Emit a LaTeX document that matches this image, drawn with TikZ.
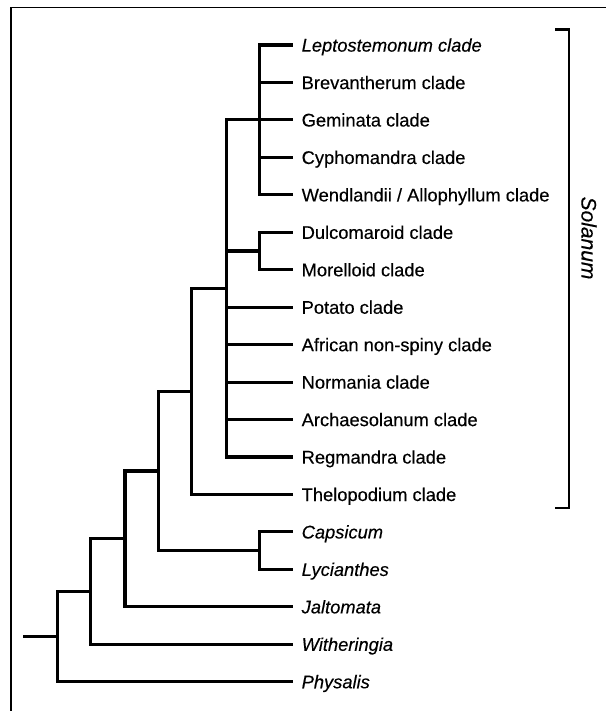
\documentclass[tikz,border=0pt]{standalone}
\usepackage{fontspec}
\setmainfont{Liberation Sans}[FakeBold=0.3]
\begin{document}
\begin{tikzpicture}[x=1pt,y=-1pt,
  branch/.style={line width=3.1pt,line join=miter},
  leaf/.style={anchor=west,inner xsep=8.5pt,inner ysep=0pt,text height=13.2pt,text depth=0pt,
    font=\fontsize{18.3}{22}\selectfont},
  ileaf/.style={leaf,font=\fontsize{18.3}{22}\selectfont\itshape},
  frame/.style={line width=1.6pt}]
\useasboundingbox (0,0) rectangle (605,711);
% frame (top and left edges)
\coordinate (ftl) at (10.7,7.5);
\coordinate (ftr) at (606,7.5);
\coordinate (fbl) at (10.7,712);
\draw[frame] (ftr) -- (ftl) -- (fbl);
% leaves
\def\tx{293}
\node[ileaf] (l0)  at (\tx,45.00)  {Leptostemonum clade};
\node[leaf]  (l1)  at (\tx,82.45)  {Brevantherum clade};
\node[leaf]  (l2)  at (\tx,119.90) {Geminata clade};
\node[leaf]  (l3)  at (\tx,157.35) {Cyphomandra clade};
\node[leaf]  (l4)  at (\tx,194.80) {Wendlandii / Allophyllum clade};
\node[leaf]  (l5)  at (\tx,232.25) {Dulcomaroid clade};
\node[leaf]  (l6)  at (\tx,269.70) {Morelloid clade};
\node[leaf]  (l7)  at (\tx,307.15) {Potato clade};
\node[leaf]  (l8)  at (\tx,344.60) {African non-spiny clade};
\node[leaf]  (l9)  at (\tx,382.05) {Normania clade};
\node[leaf]  (l10) at (\tx,419.50) {Archaesolanum clade};
\node[leaf]  (l11) at (\tx,456.95) {Regmandra clade};
\node[leaf]  (l12) at (\tx,494.40) {Thelopodium clade};
\node[ileaf] (l13) at (\tx,531.85) {Capsicum};
\node[ileaf] (l14) at (\tx,569.30) {Lycianthes};
\node[ileaf] (l15) at (\tx,606.75) {Jaltomata};
\node[ileaf] (l16) at (\tx,644.20) {Witheringia};
\node[ileaf] (l17) at (\tx,681.65) {Physalis};
% internal nodes
\coordinate (n1) at (259.3,119.90);
\coordinate (n2) at (259.3,250.98);
\coordinate (n3) at (226.7,288.43);
\coordinate (n4) at (191.7,391.41);
\coordinate (n5) at (259.3,550.58);
\coordinate (n6) at (158.3,470.99);
\coordinate (n7) at (125.0,538.87);
\coordinate (n8) at (90.7,591.54);
\coordinate (n9) at (57.3,636.59);
\coordinate (root) at (23.3,636.59);
% branches
\foreach \c in {l0,l1,l2,l3,l4} \draw[branch] (n1) |- (\c.west);
\foreach \c in {l5,l6} \draw[branch] (n2) |- (\c.west);
\foreach \c in {n1,n2} \draw[branch] (n3) |- (\c);
\foreach \c in {l7,l8,l9,l10,l11} \draw[branch] (n3) |- (\c.west);
\draw[branch] (n4) |- (n3);
\draw[branch] (n4) |- (l12.west);
\foreach \c in {l13,l14} \draw[branch] (n5) |- (\c.west);
\draw[branch] (n6) |- (n4);
\draw[branch] (n6) |- (n5);
\draw[branch] (n7) |- (n6);
\draw[branch] (n7) |- (l15.west);
\draw[branch] (n8) |- (n7);
\draw[branch] (n8) |- (l16.west);
\draw[branch] (n9) |- (n8);
\draw[branch] (n9) |- (l17.west);
\draw[branch] (root) -- (n9);
% Solanum bracket
\coordinate (bt) at (555,29.3);
\coordinate (bb) at (555,508);
\draw[line width=2.8pt] (bt) -- ++(14,0) |- (bb);
\node[rotate=-90,font=\fontsize{21}{24}\selectfont\itshape,inner sep=0pt] (sol) at (589,238) {Solanum};
\end{tikzpicture}
\end{document}
